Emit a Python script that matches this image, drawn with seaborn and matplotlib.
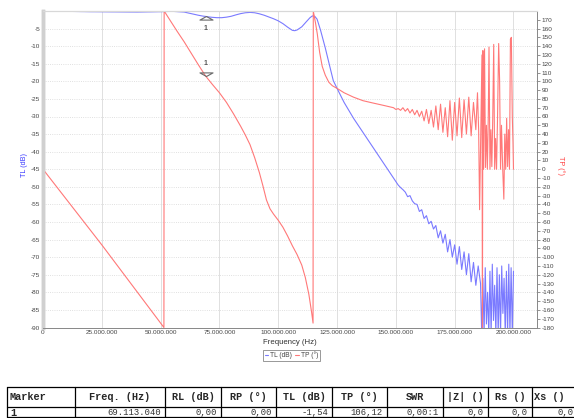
import matplotlib
matplotlib.use("Agg")
import matplotlib.pyplot as plt
import seaborn as sns
from matplotlib.lines import Line2D
from matplotlib.path import Path
from matplotlib.ticker import FuncFormatter, FixedLocator

# ---- transmission loss (TL, dB) vs frequency (MHz) ----
tl_freq = [0, 10, 20, 30, 40, 50, 55, 60, 62, 64, 66, 68, 69.1, 70, 72, 74, 76, 78, 80,
           82, 84, 86, 88, 90, 92, 94, 96, 98, 100, 102, 104, 106, 107, 108, 110, 112,
           113.5, 114.5, 115.5, 116.5, 118, 120, 122, 123.4, 125, 128, 132, 136, 140,
           144, 147,
           150, 151, 152, 153, 154, 155, 156, 157, 158, 159, 160, 161, 162, 163, 164,
           165, 166, 167, 168, 169, 170, 171, 172, 173, 174, 175, 176, 177, 178, 179,
           180, 181, 182, 183, 184, 185, 186,
           186.5, 187, 187.5, 188, 188.5, 189, 189.5, 190, 190.5, 191, 191.5, 192,
           192.5, 193, 193.5, 194, 194.5, 195, 195.5, 196, 196.5, 197, 197.5, 198,
           198.5, 199, 199.5, 200]
tl_db = [0, -0.1, -0.2, -0.25, -0.3, -0.2, -0.1, -0.3, -0.6, -0.9, -1.2, -1.45, -1.54,
         -1.65, -1.8, -1.9, -1.9, -1.75, -1.5, -1.1, -0.75, -0.5, -0.4, -0.5, -0.8, -1.2,
         -1.7, -2.2, -2.8, -3.6, -4.6, -5.5, -5.6, -5.4, -4.5, -3.0, -1.9, -1.4, -1.5,
         -2.3, -5.5, -10.5, -16, -19.8, -22, -26, -30.5, -34.5, -38.5, -42.5, -45.5,
         -48.5, -49.5, -50.2, -50.8, -51.5, -52.8, -52.5, -54, -54.8, -55, -57, -56.5,
         -59, -58.2, -60.5, -59.8, -62, -61, -64.5, -62.5, -66, -63.5, -68.5, -65, -70,
         -66.5, -72, -67, -73.5, -68.5, -75, -69, -77, -71.5, -78, -72.5, -77.5,
         -92, -76, -92, -73, -89, -80, -92, -74, -92, -72, -88, -78, -92, -73, -92,
         -75, -92, -72.5, -86, -76, -92, -74, -92, -72, -92, -73, -92, -74]

# ---- transmission phase (TP, deg) vs frequency (MHz) ----
tp_freq = [0, 25, 51.4,
           51.5, 54, 57, 60, 63, 66, 69.1, 72, 75, 78, 81, 84, 86, 88, 90, 92, 93.5, 95,
           96.5, 98, 100, 102, 104, 106, 108, 110, 111.5, 113, 114.2, 114.8,
           114.9, 115.8, 116.6, 117.6, 118.7, 120, 121.5, 123, 125, 128, 132, 136, 140,
           145, 149,
           150, 151, 152, 153, 154, 155, 156, 157, 158, 159, 160, 161, 162, 163, 164,
           165, 166, 167, 168, 169, 170, 171, 172, 173, 174, 175, 176, 177, 178, 179,
           180, 181, 182, 183, 184,
           184.7, 185.2, 185.6, 186.1, 186.6, 186.8, 187.0, 187.3, 187.7, 188.1, 188.5,
           188.9, 189.3, 189.6, 190.0, 190.4, 190.8, 191.2, 191.6, 192.0, 192.4, 192.8,
           193.2, 193.7, 194.1, 194.5, 194.9, 195.4, 195.9, 196.3, 196.7, 197.1, 197.5,
           197.9, 198.3, 198.7, 199.1, 199.5, 199.8, 200.0]
tp_deg = [0, -86, -180,
          180, 169.5, 157, 145, 132, 119, 106.12, 96.5, 87, 76, 63, 49, 39, 28, 13, -4,
          -19, -35, -45, -51, -58, -66, -76, -87, -97, -109, -123, -142, -163, -175,
          180, 167, 154, 133, 117, 107, 99, 95, 92, 87, 82, 78, 75.5, 72.5, 70,
          68, 69, 67, 70, 66, 69, 64, 68, 62, 67, 60, 66, 55, 68, 52, 67, 48, 72, 45,
          74, 42, 70, 37, 78, 33, 76, 38, 81, 36, 79, 40, 82, 38, 76, 45,
          87, 44, -46, 42, 130, -180, 135, 0, 137, 2, 50, 0, 62, 139, 0, 45, 3, 60, 142,
          0, 35, 0, 55, 143, 101, 0, 50, 2, -34, 40, 0, 58, 3, 45, 0, 148, 150, 60, 30, 0]

marker_freq = 69.1
marker_tl = -1.54
marker_tp = 106.12

table_headers = ["Marker", "Freq. (Hz)", "RL (dB)", "RP (°)", "TL (dB)", "TP (°)",
                 "SWR", "|Z| ()", "Rs ()", "Xs ()"]
table_row = ["1", "69.113.040", "0,00", "0,00", "-1,54", "106,12", "0,00:1",
             "0,0", "0,0", "0,0"]

sns.set_style("white")
plt.rcParams['font.family'] = ['Liberation Sans', 'DejaVu Sans']
plt.rcParams['axes.unicode_minus'] = False

BLUE = '#7a7aff'
RED = '#ff7878'
W, H = 574, 418

fig = plt.figure(figsize=(W / 100, H / 100), dpi=100)
ax = fig.add_axes([43 / W, 1 - 327.5 / H, (537 - 43) / W, (327.5 - 11) / H])
ax2 = ax.twinx()

sns.lineplot(x=tl_freq, y=tl_db, ax=ax, color=BLUE, linewidth=0.8,
             estimator=None, sort=False)
sns.lineplot(x=tp_freq, y=tp_deg, ax=ax2, color=RED, linewidth=0.8,
             estimator=None, sort=False)

ax.set_xlim(0, 210)
ax.set_ylim(-90, 0)
ax2.set_ylim(-180, 180)

ax.xaxis.set_major_locator(FixedLocator(range(0, 201, 25)))
ax.xaxis.set_major_formatter(FuncFormatter(
    lambda v, p: f"{int(round(v * 1e6)):,}".replace(",", ".")))
ax.yaxis.set_major_locator(FixedLocator(range(-90, 0, 5)))
ax2.yaxis.set_major_locator(FixedLocator(range(-180, 180, 10)))

ax.tick_params(axis='both', labelsize=4.6, labelcolor='#444444', length=0, pad=2)
ax2.tick_params(axis='y', labelsize=4.6, labelcolor='#444444', length=2,
                width=0.5, color='#666666', pad=1.5)

ax.grid(axis='x', color='#e0e0e0', linestyle='-', linewidth=0.7)
ax.grid(axis='y', color='#d6d6d6', linestyle=':', linewidth=0.6)
ax.set_axisbelow(True)

for a in (ax, ax2):
    a.spines['left'].set_color('#d0d0d0')
    a.spines['left'].set_linewidth(2.5)
    a.spines['top'].set_color('#d8d8d8')
    a.spines['top'].set_linewidth(0.8)
    a.spines['bottom'].set_color('#8a8a8a')
    a.spines['bottom'].set_linewidth(0.7)
    a.spines['right'].set_color('#8a8a8a')
    a.spines['right'].set_linewidth(0.7)

ax.set_xlabel("")
ax.set_ylabel("")
ax2.set_ylabel("")
fig.text(24 / W, 1 - 165 / H, "TL (dB)", color='#3a3aff', fontsize=5.2,
         rotation=90, ha='center', va='center')
fig.text(561 / W, 1 - 165 / H, "TP (°)", color='#ff4040', fontsize=5.2,
         rotation=270, ha='center', va='center')
fig.text(290 / W, 1 - 343 / H, "Frequency (Hz)", color='#333333', fontsize=5.6,
         ha='center', va='center')

# markers: apex sits on the curve
tri_up = Path([(0, 0), (-1, -0.55), (1, -0.55), (0, 0)],
              [Path.MOVETO, Path.LINETO, Path.LINETO, Path.CLOSEPOLY])
tri_dn = Path([(0, 0), (-1, 0.55), (1, 0.55), (0, 0)],
              [Path.MOVETO, Path.LINETO, Path.LINETO, Path.CLOSEPOLY])
ax.plot([marker_freq], [marker_tl], marker=tri_up, ms=9.4, mfc='none',
        mec='#6a6a6a', mew=0.8, ls='none', zorder=5)
ax2.plot([marker_freq], [marker_tp], marker=tri_dn, ms=9.4, mfc='none',
         mec='#6a6a6a', mew=0.8, ls='none', zorder=5)
ax.annotate("1", (marker_freq, marker_tl), xytext=(0, -9), textcoords='offset points',
            ha='center', va='center', fontsize=5, color='#555555', fontweight='bold')
ax2.annotate("1", (marker_freq, marker_tp), xytext=(0, 9), textcoords='offset points',
             ha='center', va='center', fontsize=5, color='#555555', fontweight='bold')

handles = [Line2D([], [], color=BLUE, lw=0.8), Line2D([], [], color=RED, lw=0.8)]
leg = fig.legend(handles, ["TL (dB)", "TP (°)"], loc='center',
                 bbox_to_anchor=(291.5 / W, 1 - 355.5 / H), ncol=2, fontsize=4.8,
                 handlelength=0.5, handletextpad=0.3, columnspacing=0.5,
                 borderpad=0.25, frameon=True, fancybox=False, framealpha=1)
leg.get_frame().set_edgecolor('#888888')
leg.get_frame().set_linewidth(0.6)
for t in leg.get_texts():
    t.set_color('#444444')

# ---- marker table ----
tab = fig.add_axes([0, 0, 1, 1])
tab.set_xlim(0, W)
tab.set_ylim(H, 0)
tab.axis('off')
col_edges = [7, 75, 165, 221, 276, 332, 387, 443, 488, 532, 590]
hdr_centers = [None, 120, 193, 248.5, 304, 359.5, 415, 465, 510, 549]
row_edges = [387, 407, 417]
for y in row_edges:
    tab.plot([col_edges[0], col_edges[-1]], [y, y], color='black', lw=0.9)
for x in col_edges:
    tab.plot([x, x], [row_edges[0], row_edges[-1]], color='black', lw=0.9)

mono = ['Liberation Mono', 'DejaVu Sans Mono']
for i, (hdr, val) in enumerate(zip(table_headers, table_row)):
    x0, x1 = col_edges[i], col_edges[i + 1]
    if i == 0:
        tab.text(x0 + 3, 397, hdr, family=mono, fontsize=7.4, fontweight='bold',
                 ha='left', va='center')
        tab.text(x0 + 3, 412.5, val, family=mono, fontsize=7.4, fontweight='bold',
                 ha='left', va='center')
    else:
        tab.text(hdr_centers[i], 397, hdr, family=mono, fontsize=7.4,
                 fontweight='bold', ha='center', va='center')
        right = x1 - 4 if i < len(table_headers) - 1 else 574
        tab.text(right, 412.5, val, family=mono, fontsize=6.4, color='#333333',
                 ha='right', va='center')

fig.savefig("out.png", dpi=100)
